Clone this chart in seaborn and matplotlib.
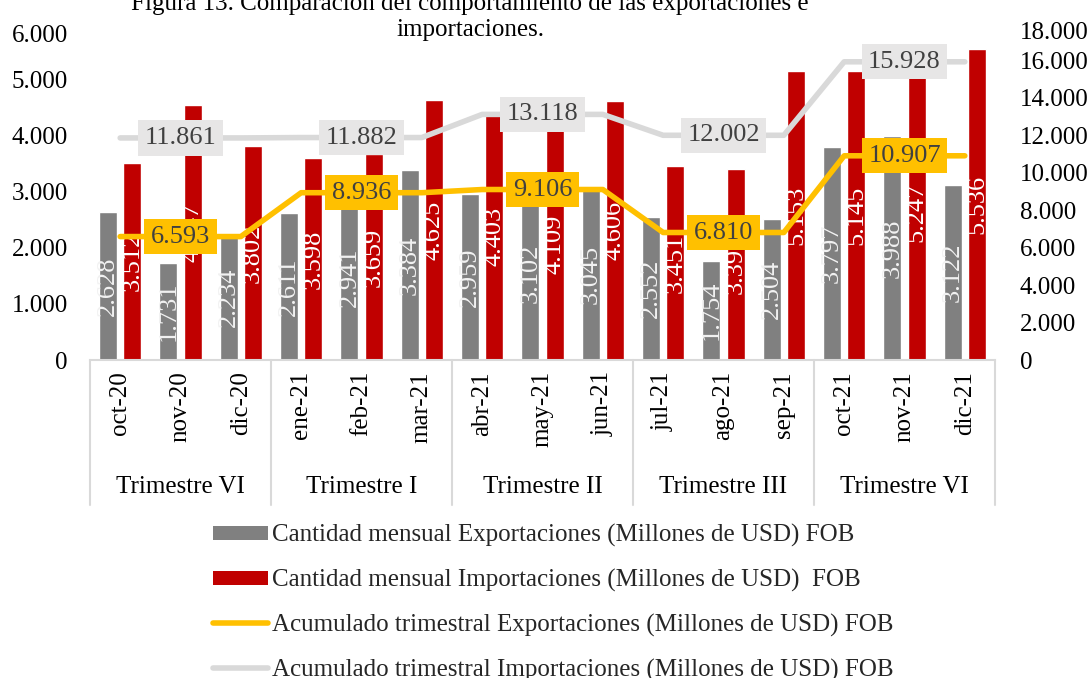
import matplotlib
matplotlib.use("Agg")
import numpy as np
import pandas as pd
import seaborn as sns
import matplotlib.pyplot as plt
from matplotlib.patches import Patch
from matplotlib.lines import Line2D
from matplotlib.transforms import ScaledTranslation

# ---------------- data ----------------
months = ["oct-20", "nov-20", "dic-20", "ene-21", "feb-21", "mar-21",
          "abr-21", "may-21", "jun-21", "jul-21", "ago-21", "sep-21",
          "oct-21", "nov-21", "dic-21"]
quarters = ["Trimestre VI", "Trimestre I", "Trimestre II", "Trimestre III", "Trimestre VI"]
exports = [2628, 1731, 2234, 2611, 2941, 3384, 2959, 3102, 3045, 2552, 1754, 2504, 3797, 3988, 3122]
imports = [3512, 4547, 3802, 3598, 3659, 4625, 4403, 4109, 4606, 3451, 3398, 5153, 5145, 5247, 5536]
acc_exp = [6593, 8936, 9106, 6810, 10907]
acc_imp = [11861, 11882, 13118, 12002, 15928]

lab_exp = "Cantidad mensual Exportaciones (Millones de USD) FOB"
lab_imp = "Cantidad mensual Importaciones (Millones de USD)  FOB"
lab_aexp = "Acumulado trimestral Exportaciones (Millones de USD) FOB"
lab_aimp = "Acumulado trimestral Importaciones (Millones de USD) FOB"

title1 = "Figura 13. Comparación del comportamiento de las exportaciones e"
title2 = "importaciones."

GRAY = "#808080"
RED = "#C00000"
YELLOW = "#FFC000"
LGRAY = "#D9D9D9"
TXT = "#404040"


def fmt(v):
    return f"{v:,}".replace(",", ".")


sns.set_theme(style="white")
plt.rcParams["font.family"] = ["Liberation Serif", "DejaVu Serif"]

fig = plt.figure(figsize=(10.91, 6.78), dpi=100)
ax = fig.add_axes([90 / 1091, 1 - 360 / 678, 905 / 1091, 337 / 678])

bar_df = pd.DataFrame({
    "mes": months * 2,
    "valor": exports + imports,
    "serie": [lab_exp] * len(months) + [lab_imp] * len(months),
})
sns.barplot(data=bar_df, x="mes", y="valor", hue="serie", order=months,
            hue_order=[lab_exp, lab_imp], palette=[GRAY, RED], saturation=1,
            width=0.8, gap=0.25, ax=ax, legend=False, zorder=2)

# bar labels
for i, (e, m) in enumerate(zip(exports, imports)):
    ax.text(i - 0.2, e / 2, fmt(e), rotation=90, ha="center", va="center",
            color="#F2F2F2", fontsize=19, zorder=3)
    ax.text(i + 0.2, m / 2, fmt(m), rotation=90, ha="center", va="center",
            color="white", fontsize=19, zorder=3)

ax.set_xlim(-0.5, len(months) - 0.5)
ax.set_ylim(0, 6000)
ax.set_yticks(range(0, 6001, 1000))
ax.set_yticklabels([fmt(v) for v in range(0, 6001, 1000)])
ax.set_xlabel("")
ax.set_ylabel("")
ax.tick_params(axis="x", length=0, pad=8, labelsize=18, labelrotation=90, colors="black")
ax.tick_params(axis="y", length=0, pad=16, labelsize=18, colors="black")
for s in ["top", "left", "right"]:
    ax.spines[s].set_visible(False)
ax.spines["bottom"].set_color(LGRAY)
ax.spines["bottom"].set_linewidth(1.5)

# category separators and group labels
trans = ax.get_xaxis_transform()
for xb in [-0.5, 2.5, 5.5, 8.5, 11.5, 14.5]:
    ax.plot([xb, xb], [0, -0.43], transform=trans, color=LGRAY, lw=1.5, clip_on=False)
for g, q in enumerate(quarters):
    ax.text(g * 3 + 1, -0.377, q, transform=trans, ha="center", va="center",
            fontsize=18, color="black")

# lines on secondary axis
ax2 = ax.twinx()
pos = np.arange(len(months))
line_df = pd.DataFrame({
    "pos": np.concatenate([pos, pos]),
    "valor": np.concatenate([np.repeat(acc_imp, 3), np.repeat(acc_exp, 3)]),
    "serie": [lab_aimp] * len(months) + [lab_aexp] * len(months),
})
sns.lineplot(data=line_df, x="pos", y="valor", hue="serie", hue_order=[lab_aimp, lab_aexp],
             palette=[LGRAY, YELLOW], linewidth=4, sort=False, estimator=None,
             ax=ax2, legend=False, solid_capstyle="round", solid_joinstyle="round")
ax2.set_ylim(0, 18000)
ax2.set_yticks(range(0, 18001, 2000))
ax2.set_yticklabels([fmt(v) for v in range(0, 18001, 2000)])
ax2.set_xlabel("")
ax2.set_ylabel("")
ax2.tick_params(axis="y", length=0, pad=18, labelsize=18, colors="black")
for s in ax2.spines.values():
    s.set_visible(False)
ax2.set_xlim(-0.5, len(months) - 0.5)

# top tick labels pushed down a little, as in the reference
for axis_obj, dy in [(ax.yaxis, -10), (ax2.yaxis, -7)]:
    lbl = axis_obj.get_major_ticks()[-1]
    for t in (lbl.label1, lbl.label2):
        t.set_transform(t.get_transform() + ScaledTranslation(0, dy / 100, fig.dpi_scale_trans))

for g in range(len(quarters)):
    x = g * 3 + 1
    ax2.text(x, acc_imp[g], fmt(acc_imp[g]), ha="center", va="center", fontsize=19,
             color=TXT, zorder=6,
             bbox=dict(boxstyle="square,pad=0.25", facecolor="#E7E6E6", edgecolor="none"))
    ax2.text(x, acc_exp[g], fmt(acc_exp[g]), ha="center", va="center", fontsize=19,
             color=TXT, zorder=6,
             bbox=dict(boxstyle="square,pad=0.25", facecolor=YELLOW, edgecolor="none"))

# title (top line partly cut off as in reference)
fig.text(470 / 1091, 1 - 4 / 678, title1, ha="center", va="center", fontsize=18, color="black")
fig.text(470 / 1091, 1 - 30 / 678, title2, ha="center", va="center", fontsize=18, color="black")

# legend
handles = [
    Patch(facecolor=GRAY, edgecolor="none"),
    Patch(facecolor=RED, edgecolor="none"),
    Line2D([], [], color=YELLOW, lw=4, solid_capstyle="round"),
    Line2D([], [], color=LGRAY, lw=4, solid_capstyle="round"),
]
labels = [lab_exp, lab_imp, lab_aexp, lab_aimp]
fig.legend(handles, labels, loc="upper left", bbox_to_anchor=(213 / 1091, 1 - 524 / 678),
           frameon=False, fontsize=18, handlelength=2.2, handleheight=0.5,
           handletextpad=0.15, labelspacing=0.87, borderaxespad=0, borderpad=0)

fig.savefig("out.png", dpi=100)
